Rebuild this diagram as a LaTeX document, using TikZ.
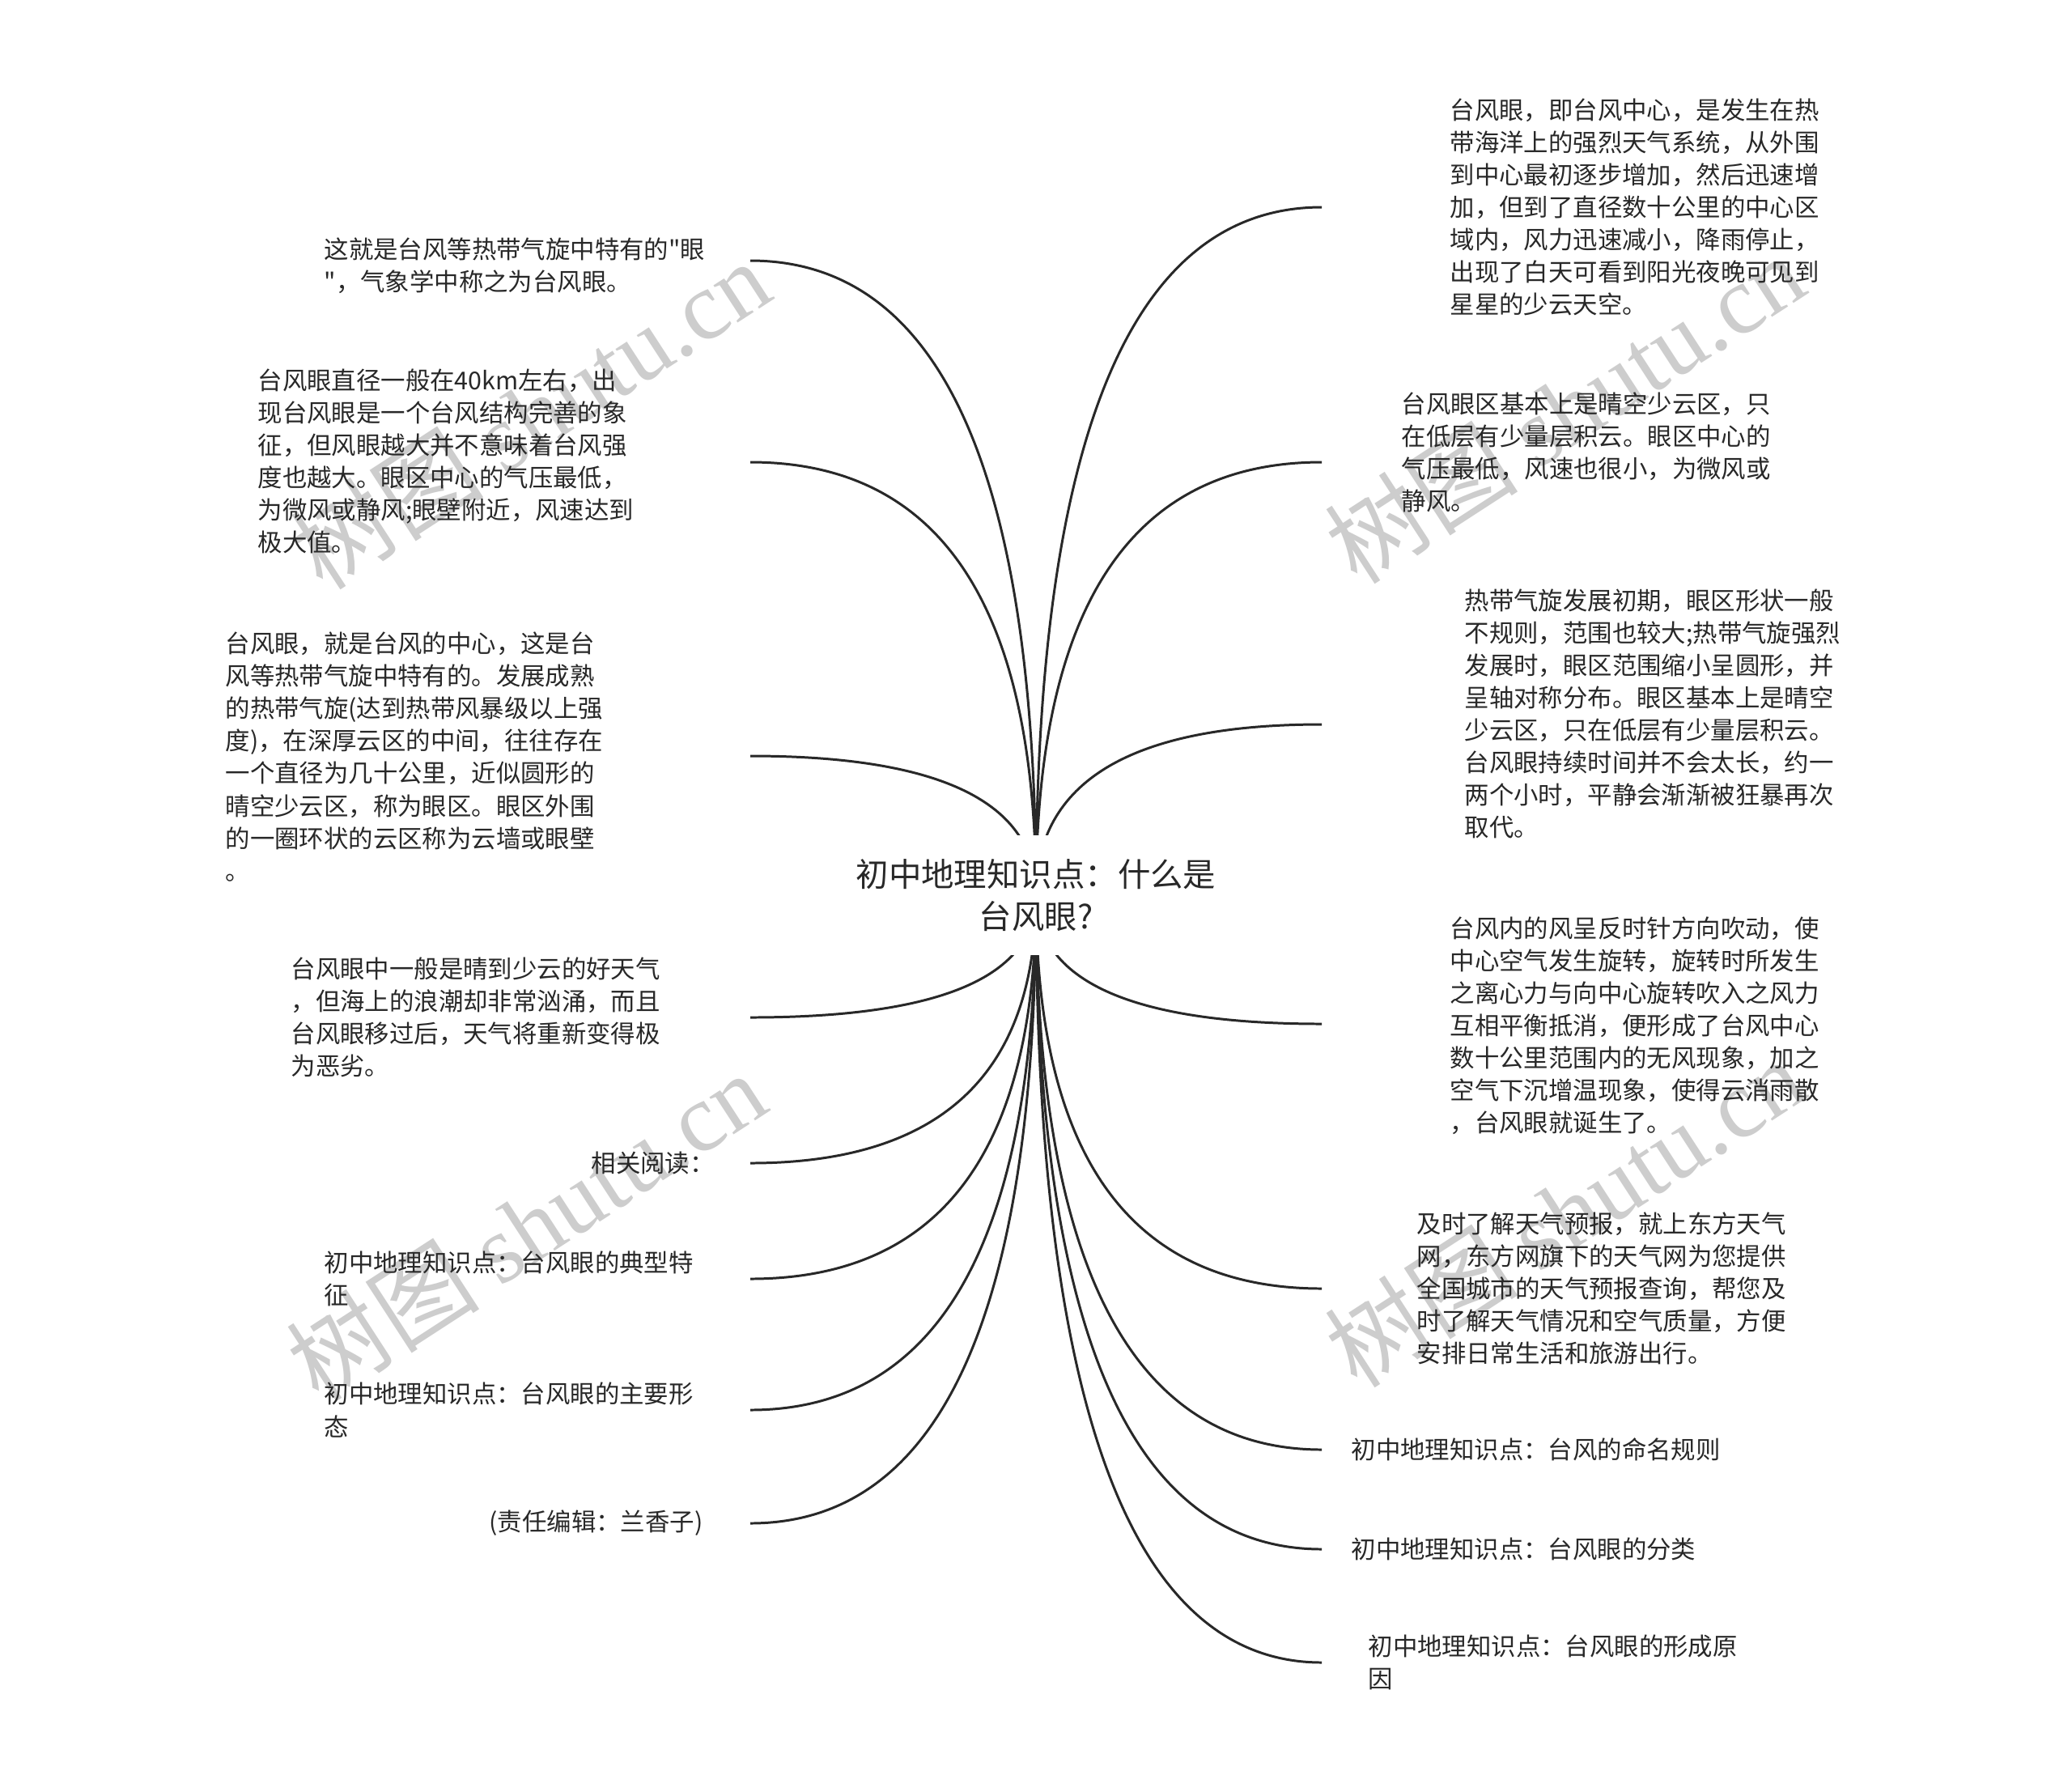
\documentclass[tikz,border=0pt]{standalone}
\usepackage{fontspec}
\setmainfont{Noto Sans CJK SC}[Ligatures=TeXOff]
\newfontfamily\wmlatin{Liberation Serif}
\usetikzlibrary{calc,backgrounds}
\definecolor{ink}{RGB}{40,40,40}
\definecolor{wm}{RGB}{205,205,205}
\tikzset{
  txt/.style={anchor=west, inner sep=0pt, align=left, text=ink, font=\fontsize{8.65pt}{11.4pt}\selectfont},
  central/.style={fill=white, inner sep=0pt, minimum width=4.7cm, minimum height=1.48cm, align=center, text=ink, font=\fontsize{11.5pt}{14.8pt}\selectfont},
  conn/.style={draw=ink, line width=0.85pt},
  wmark/.style={text=wm, rotate=33, font=\fontsize{34pt}{34pt}\selectfont, inner sep=0pt}
}
\newcommand\branch[2]{\draw[conn] let \p1=(#1), \p2=(#2) in (\p1) .. controls (\x1,{\y1+2/3*(\y2-\y1)}) and ({\x2+2/3*(\x1-\x2)},\y2) .. (\p2);}
\begin{document}
\begin{tikzpicture}
\useasboundingbox (0,0) rectangle (25.6,-22.13);

% central topic
\node[central] (c) at (12.80,-11.06) {初中地理知识点：什么是\\台风眼?};

% left texts
\node[txt] (L1) at (4.00,-3.28) {这就是台风等热带气旋中特有的"眼\\"，气象学中称之为台风眼。};
\node[txt] (L2) at (3.18,-5.70) {台风眼直径一般在40km左右，出\\现台风眼是一个台风结构完善的象\\征，但风眼越大并不意味着台风强\\度也越大。眼区中心的气压最低，\\为微风或静风;眼壁附近，风速达到\\极大值。};
\node[txt] (L3) at (2.78,-9.35) {台风眼，就是台风的中心，这是台\\风等热带气旋中特有的。发展成熟\\的热带气旋(达到热带风暴级以上强\\度)，在深厚云区的中间，往往存在\\一个直径为几十公里，近似圆形的\\晴空少云区，称为眼区。眼区外围\\的一圈环状的云区称为云墙或眼壁\\。};
\node[txt] (L4) at (3.59,-12.57) {台风眼中一般是晴到少云的好天气\\，但海上的浪潮却非常汹涌，而且\\台风眼移过后，天气将重新变得极\\为恶劣。};
\node[txt] (L5) at (7.30,-14.37) {相关阅读：};
\node[txt] (L6) at (4.00,-15.80) {初中地理知识点：台风眼的典型特\\征};
\node[txt] (L7) at (4.00,-17.42) {初中地理知识点：台风眼的主要形\\态};
\node[txt] (L8) at (6.04,-18.82) {(责任编辑：兰香子)};

% right texts
\node[txt] (R1) at (17.91,-2.56) {台风眼，即台风中心，是发生在热\\带海洋上的强烈天气系统，从外围\\到中心最初逐步增加，然后迅速增\\加，但到了直径数十公里的中心区\\域内，风力迅速减小，降雨停止，\\出现了白天可看到阳光夜晚可见到\\星星的少云天空。};
\node[txt] (R2) at (17.31,-5.59) {台风眼区基本上是晴空少云区，只\\在低层有少量层积云。眼区中心的\\气压最低，风速也很小，为微风或\\静风。};
\node[txt] (R3) at (18.09,-8.82) {热带气旋发展初期，眼区形状一般\\不规则，范围也较大;热带气旋强烈\\发展时，眼区范围缩小呈圆形，并\\呈轴对称分布。眼区基本上是晴空\\少云区，只在低层有少量层积云。\\台风眼持续时间并不会太长，约一\\两个小时，平静会渐渐被狂暴再次\\取代。};
\node[txt] (R4) at (17.91,-12.67) {台风内的风呈反时针方向吹动，使\\中心空气发生旋转，旋转时所发生\\之离心力与向中心旋转吹入之风力\\互相平衡抵消，便形成了台风中心\\数十公里范围内的无风现象，加之\\空气下沉增温现象，使得云消雨散\\，台风眼就诞生了。};
\node[txt] (R5) at (17.50,-15.92) {及时了解天气预报，就上东方天气\\网，东方网旗下的天气网为您提供\\全国城市的天气预报查询，帮您及\\时了解天气情况和空气质量，方便\\安排日常生活和旅游出行。};
\node[txt] (R6) at (16.69,-17.91) {初中地理知识点：台风的命名规则};
\node[txt] (R7) at (16.69,-19.14) {初中地理知识点：台风眼的分类};
\node[txt] (R8) at (16.90,-20.54) {初中地理知识点：台风眼的形成原\\因};

% connector end points
\coordinate (eL1) at (9.27,-3.22);
\coordinate (eL2) at (9.27,-5.71);
\coordinate (eL3) at (9.27,-9.34);
\coordinate (eL4) at (9.27,-12.57);
\coordinate (eL5) at (9.27,-14.37);
\coordinate (eL6) at (9.27,-15.80);
\coordinate (eL7) at (9.27,-17.42);
\coordinate (eL8) at (9.27,-18.82);
\coordinate (eR1) at (16.33,-2.56);
\coordinate (eR2) at (16.33,-5.71);
\coordinate (eR3) at (16.33,-8.95);
\coordinate (eR4) at (16.33,-12.65);
\coordinate (eR5) at (16.33,-15.92);
\coordinate (eR6) at (16.33,-17.91);
\coordinate (eR7) at (16.33,-19.14);
\coordinate (eR8) at (16.33,-20.54);

\begin{scope}[on background layer]
  \fill[white] (0,0) rectangle (25.6,-22.13);
  \node[wmark] (wm1) at (6.55,-5.12) {树图 {\wmlatin shutu.cn}};
  \node[wmark] (wm2) at (19.33,-5.05) {树图 {\wmlatin shutu.cn}};
  \node[wmark] (wm3) at (6.50,-15.15) {树图 {\wmlatin shutu.cn}};
  \node[wmark] (wm4) at (19.33,-14.98) {树图 {\wmlatin shutu.cn}};
  \branch{c.center}{eL1}
  \branch{c.center}{eL2}
  \branch{c.center}{eL3}
  \branch{c.center}{eL4}
  \branch{c.center}{eL5}
  \branch{c.center}{eL6}
  \branch{c.center}{eL7}
  \branch{c.center}{eL8}
  \branch{c.center}{eR1}
  \branch{c.center}{eR2}
  \branch{c.center}{eR3}
  \branch{c.center}{eR4}
  \branch{c.center}{eR5}
  \branch{c.center}{eR6}
  \branch{c.center}{eR7}
  \branch{c.center}{eR8}
\end{scope}
\end{tikzpicture}
\end{document}
